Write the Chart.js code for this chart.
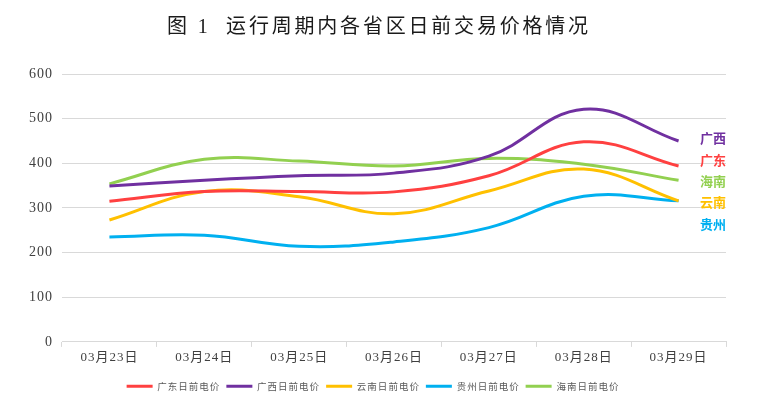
<!DOCTYPE html>
<html>
<head>
<meta charset="utf-8">
<script src="https://cdn.jsdelivr.net/npm/chart.js@4.4.1/dist/chart.umd.min.js"></script>
<style>
    html, body { margin: 0; padding: 0; background: #fff; }
    #wrap { width: 758px; height: 417px; }
</style>
</head>
<body>
<div id="wrap"><canvas id="priceChart"></canvas></div>
<script>
// 日期
const days = ['03月23日', '03月24日', '03月25日', '03月26日', '03月27日', '03月28日', '03月29日'];

// 各省区日前电价 (元/MWh，读图估计)
const guangdong = [315, 337, 337, 336, 372, 448, 394];
const guangxi = [349, 362, 372, 378, 416, 521, 450];
const yunnan = [273, 337, 325, 287, 338, 387, 316];
const guizhou = [235, 239, 214, 224, 256, 326, 316];
const hainan = [354, 409, 405, 394, 411, 398, 362];

const yTicks = [0, 100, 200, 300, 400, 500, 600];

// 右侧省区标签 (顺序与颜色)
const sideLabels = ['广西', '广东', '海南', '云南', '贵州'];
const sideColors = ['#7030A0', '#FF4040', '#92D050', '#FFC000', '#00B0F0'];

const serif = '"Liberation Serif", "Noto Sans CJK SC", serif';

function makeSet(label, values, color) {
    return {
        label: label,
        data: values,
        borderColor: color,
        backgroundColor: color,
        borderWidth: 3,
        pointRadius: 0,
        pointStyle: 'line',
        tension: 0.4,
        fill: false
    };
}

// 字间距 (画布每次重设尺寸后状态会丢失，所以每次都设)
// 另外微调标题和图例的位置
const spacingPlugin = {
    id: 'spacing',
    afterInit(chart) {
        const block = chart.titleBlock;
        if (block) {
            const drawTitle = block.draw;
            block.draw = function () {
                const c = chart.ctx;
                c.save();
                c.translate(6, 0);
                c.letterSpacing = '2.8px';
                drawTitle.apply(this, arguments);
                c.restore();
            };
        }
        const legend = chart.legend;
        if (legend) {
            const fitLegend = legend.fit;
            legend.fit = function () {
                fitLegend.apply(this, arguments);
                this.height += 7;
            };
            const drawLegend = legend.draw;
            legend.draw = function () {
                const c = chart.ctx;
                c.save();
                c.translate(0, 7);
                drawLegend.apply(this, arguments);
                c.restore();
            };
        }
    },
    beforeUpdate(chart) { chart.ctx.letterSpacing = '1px'; },
    beforeDraw(chart) { chart.ctx.letterSpacing = '1px'; }
};

const sideLabelPlugin = {
    id: 'sideLabels',
    afterDatasetsDraw(chart) {
        const ctx = chart.ctx;
        const area = chart.chartArea;
        ctx.save();
        ctx.letterSpacing = '0px';
        ctx.font = 'bold 13px "Noto Sans CJK SC", sans-serif';
        ctx.textAlign = 'right';
        ctx.textBaseline = 'middle';
        sideLabels.forEach((name, i) => {
            ctx.fillStyle = sideColors[i];
            ctx.fillText(name, area.right, area.top + 64.5 + i * 21.3);
        });
        ctx.restore();
    }
};

const ctx = document.getElementById('priceChart').getContext('2d');
new Chart(ctx, {
    type: 'line',
    data: {
        labels: days,
        datasets: [
            makeSet('广东日前电价', guangdong, '#FF4040'),
            makeSet('广西日前电价', guangxi, '#7030A0'),
            makeSet('云南日前电价', yunnan, '#FFC000'),
            makeSet('贵州日前电价', guizhou, '#00B0F0'),
            makeSet('海南日前电价', hainan, '#92D050')
        ]
    },
    options: {
        responsive: true,
        maintainAspectRatio: false,
        animation: false,
        layout: { padding: { left: 20, right: 32, top: 4, bottom: 16 } },
        plugins: {
            title: {
                display: true,
                text: '图 1  运行周期内各省区日前交易价格情况',
                font: { family: serif, size: 20, weight: 'normal' },
                color: '#1a1a1a',
                padding: { top: 12, bottom: 34 }
            },
            legend: {
                position: 'bottom',
                labels: {
                    usePointStyle: true,
                    pointStyleWidth: 26,
                    padding: 6,
                    font: { size: 9.5, family: '"Noto Sans CJK SC", sans-serif' },
                    color: '#595959'
                }
            },
            tooltip: { enabled: false }
        },
        scales: {
            x: {
                offset: true,
                grid: {
                    offset: true,
                    drawOnChartArea: false,
                    color: '#D9D9D9',
                    tickLength: 5
                },
                border: { color: '#D9D9D9' },
                ticks: {
                    font: { family: serif, size: 13 },
                    color: '#404040',
                    padding: 3
                }
            },
            y: {
                min: 0,
                max: 600,
                afterBuildTicks(axis) {
                    axis.ticks = yTicks.map(v => ({ value: v }));
                },
                grid: { color: '#D9D9D9', drawTicks: false },
                border: { display: false },
                ticks: {
                    font: { family: serif, size: 14 },
                    color: '#404040',
                    padding: 9
                }
            }
        }
    },
    plugins: [spacingPlugin, sideLabelPlugin]
});
</script>
</body>
</html>
